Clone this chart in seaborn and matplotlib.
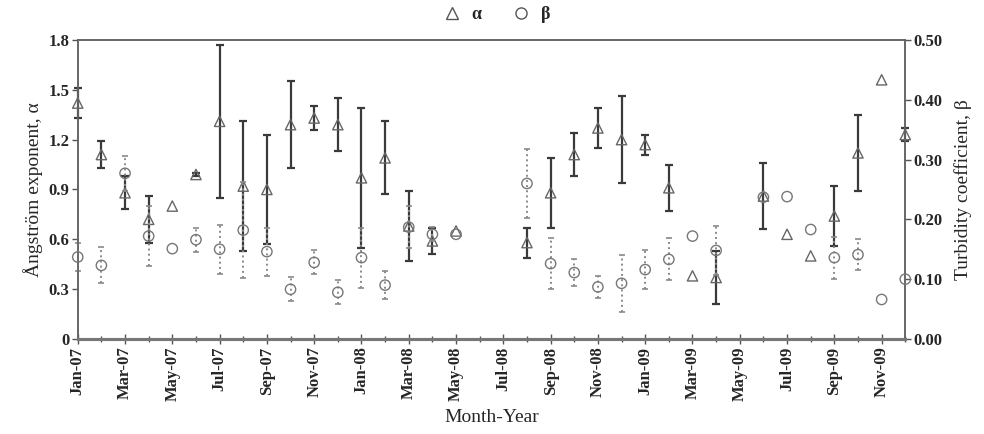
import numpy as np
import pandas as pd
import matplotlib
matplotlib.use("Agg")
import matplotlib.pyplot as plt
import seaborn as sns
from matplotlib.lines import Line2D

# month-year of each observation
months = ['Jan-07', 'Feb-07', 'Mar-07', 'Apr-07', 'May-07', 'Jun-07', 'Jul-07', 'Aug-07',
          'Sep-07', 'Oct-07', 'Nov-07', 'Dec-07', 'Jan-08', 'Feb-08', 'Mar-08', 'Apr-08',
          'May-08', 'Aug-08', 'Sep-08', 'Oct-08', 'Nov-08', 'Dec-08', 'Jan-09', 'Feb-09',
          'Mar-09', 'Apr-09', 'Jun-09', 'Jul-09', 'Aug-09', 'Sep-09', 'Oct-09', 'Nov-09',
          'Dec-09']

alpha = [1.42, 1.11, 0.88, 0.72, 0.80, 0.99, 1.31, 0.92, 0.90, 1.29, 1.33, 1.29, 0.97,
         1.09, 0.68, 0.59, 0.65, 0.58, 0.88, 1.11, 1.27, 1.20, 1.17, 0.91, 0.38, 0.37,
         0.86, 0.63, 0.50, 0.74, 1.12, 1.56, 1.23]
alpha_err = [0.09, 0.08, 0.10, 0.14, 0.0, 0.01, 0.46, 0.39, 0.33, 0.26, 0.07, 0.16, 0.42,
             0.22, 0.21, 0.08, 0.0, 0.09, 0.21, 0.13, 0.12, 0.26, 0.06, 0.14, 0.0, 0.16,
             0.20, 0.0, 0.0, 0.18, 0.23, 0.0, 0.04]

beta = [0.137, 0.123, 0.277, 0.172, 0.151, 0.166, 0.150, 0.182, 0.146, 0.083, 0.128,
        0.078, 0.136, 0.090, 0.187, 0.175, 0.175, 0.260, 0.126, 0.111, 0.087, 0.093,
        0.116, 0.133, 0.172, 0.148, 0.237, 0.238, 0.183, 0.136, 0.141, 0.066, 0.100]
beta_err = [0.024, 0.030, 0.029, 0.050, 0.0, 0.020, 0.041, 0.080, 0.040, 0.020, 0.020,
            0.020, 0.050, 0.024, 0.035, 0.012, 0.0, 0.057, 0.042, 0.022, 0.018, 0.048,
            0.032, 0.035, 0.0, 0.041, 0.0, 0.0, 0.0, 0.035, 0.026, 0.0, 0.0]

all_months = pd.date_range('2007-01-01', '2009-12-01', freq='MS').strftime('%b-%y').tolist()

df = pd.DataFrame({'month': months, 'alpha': alpha, 'alpha_err': alpha_err,
                   'beta': beta, 'beta_err': beta_err})
df['x'] = df['month'].map({m: i for i, m in enumerate(all_months)})

sns.set_style("ticks")
plt.rcParams['font.family'] = ['Liberation Serif', 'DejaVu Serif']

fig = plt.figure(figsize=(9.84, 4.34), dpi=100)
ax = fig.add_axes([0.079, 0.219, 0.841, 0.689])
ax2 = ax.twinx()

ea = df[df['alpha_err'] > 0]
ax.errorbar(ea['x'], ea['alpha'], yerr=ea['alpha_err'], fmt='none', ecolor='#3a3a3a',
            elinewidth=1.6, capsize=3, capthick=1.6, zorder=3, clip_on=False)
eb = df[df['beta_err'] > 0]
ax2.errorbar(eb['x'], eb['beta'], yerr=eb['beta_err'], fmt='none', ecolor='#8a8a8a',
             elinewidth=1.4, capsize=2.5, capthick=1.2, linestyle=':', zorder=2,
             clip_on=False)
for line in ax2.containers[0].lines[2]:
    line.set_linestyle(':')

sns.scatterplot(data=df, x='x', y='alpha', ax=ax, marker='^', s=55, facecolor='none',
                edgecolor='#666666', linewidth=1.0, zorder=4, clip_on=False)
sns.scatterplot(data=df, x='x', y='beta', ax=ax2, marker='o', s=55, facecolor='none',
                edgecolor='#777777', linewidth=1.0, zorder=4, clip_on=False)

ax.set_xlim(0, 35)
ax.set_ylim(0, 1.8)
ax2.set_ylim(0, 0.5)

ax.set_xticks(range(0, 36, 2))
ax.set_xticklabels(all_months[::2], rotation=90, fontweight='bold', fontsize=12)
ax.set_xticks(range(36), minor=True)
ax.set_yticks(np.arange(0, 1.81, 0.3))
ax.set_yticklabels(['0'] + [f'{v:.1f}' for v in np.arange(0.3, 1.81, 0.3)],
                   fontweight='bold', fontsize=12)
ax2.set_yticks(np.arange(0, 0.51, 0.1))
ax2.set_yticklabels([f'{v:.2f}' for v in np.arange(0, 0.51, 0.1)],
                    fontweight='bold', fontsize=12)

ax.tick_params(axis='x', which='major', direction='inout', length=7, width=1, color='#555555', pad=2)
ax.tick_params(axis='x', which='minor', direction='inout', length=5, width=1, color='#555555')
ax.tick_params(axis='y', direction='out', length=4, width=1, color='#555555', pad=2)
ax2.tick_params(axis='y', direction='out', length=4, width=1, color='#555555', pad=2)

ax.set_xlabel('Month-Year', fontsize=14, labelpad=6)
ax.set_ylabel('Ångström exponent, α', fontsize=14, labelpad=4)
ax2.set_ylabel('Turbidity coefficient, β', fontsize=14, labelpad=8)

for a in (ax, ax2):
    for side in ['top', 'left', 'right']:
        a.spines[side].set_color('#666666')
        a.spines[side].set_linewidth(1.2)
    a.spines['bottom'].set_color('#777777')
    a.spines['bottom'].set_linewidth(2.2)

handles = [Line2D([], [], marker='^', linestyle='none', markerfacecolor='none',
                  markeredgecolor='#555555', markersize=8),
           Line2D([], [], marker='o', linestyle='none', markerfacecolor='none',
                  markeredgecolor='#555555', markersize=8)]
fig.legend(handles, ['α', 'β'], loc='upper center', bbox_to_anchor=(0.5, 1.01), ncol=2,
           frameon=False, prop={'weight': 'bold', 'size': 13}, handletextpad=0.1,
           columnspacing=1.2, borderaxespad=0.2)

fig.savefig('out.png', dpi=100)
